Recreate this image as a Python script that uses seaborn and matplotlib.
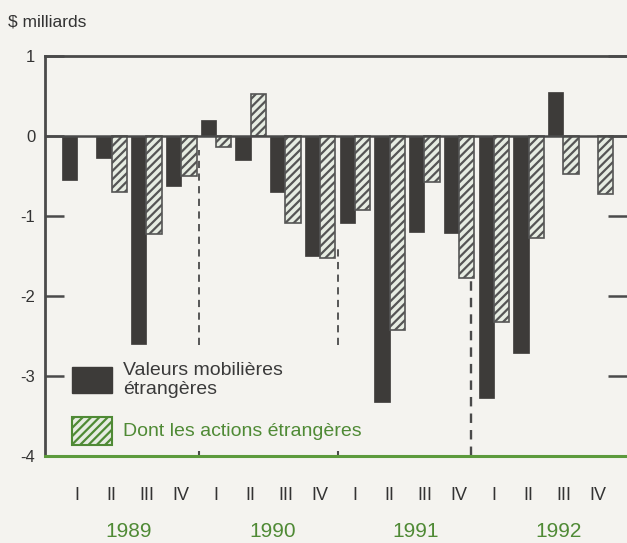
import numpy as np
import pandas as pd
import matplotlib
matplotlib.use("Agg")
import matplotlib.pyplot as plt
from matplotlib.patches import Rectangle
import seaborn as sns

# data ($ milliards)
years = ["1989", "1990", "1991", "1992"]
quarters = ["I", "II", "III", "IV"]
valeurs = [-0.55, -0.27, -2.6, -0.63,
           0.2, -0.3, -0.7, -1.5,
           -1.09, -3.33, -1.2, -1.21,
           -3.28, -2.71, 0.55, np.nan]
actions = [np.nan, -0.7, -1.23, -0.5,
           -0.14, 0.53, -1.09, -1.53,
           -0.92, -2.42, -0.58, -1.78,
           -2.33, -1.28, -0.48, -0.72]
series = ["Valeurs mobilières\nétrangères", "Dont les actions étrangères"]

keys = [y + "-" + q for y in years for q in quarters]
df = pd.DataFrame({
    "periode": keys * 2,
    "valeur": valeurs + actions,
    "serie": [series[0]] * len(keys) + [series[1]] * len(keys),
})

bg = "#f4f3ef"
dark = "#3d3b39"
light = "#e6ece2"
green = "#4f8a35"
grey = "#4a4a4a"

plt.rcParams["font.family"] = ["Liberation Sans", "DejaVu Sans"]
plt.rcParams["hatch.linewidth"] = 1.6
plt.rcParams["hatch.color"] = "#505050"

fig = plt.figure(figsize=(6.27, 5.43), dpi=100, facecolor=bg)
ax = fig.add_axes([0.0718, 0.160, 0.9282, 0.737], facecolor=bg)

sns.barplot(data=df, x="periode", y="valeur", hue="serie", order=keys,
            hue_order=series, palette=[dark, light], width=0.88,
            saturation=1, errorbar=None, legend=False, ax=ax)

for p in ax.containers[0]:
    p.set_edgecolor(dark)
    p.set_linewidth(0.5)
for p in ax.containers[1]:
    p.set_hatch("////")
    p.set_edgecolor("#555555")
    p.set_linewidth(1.2)

ax.set_xlim(-0.92, 15.83)
ax.set_ylim(-4, 1)
ax.axhline(0, color=grey, lw=1.8, zorder=3)

# year separators
ax.vlines(3.5, -2.61, -0.18, colors=grey, linestyles=(0, (4, 3)), lw=1.3)
ax.vlines(7.5, -2.61, -1.36, colors=grey, linestyles=(0, (4, 3)), lw=1.3)
ax.vlines(11.35, -4, -1.8, colors=grey, linestyles=(0, (4, 3)), lw=1.7)
ax.vlines([3.5, 7.5], -4, -3.93, colors=grey, lw=1.5)

ax.spines["right"].set_visible(False)
ax.spines["top"].set_color(grey)
ax.spines["top"].set_linewidth(2)
ax.spines["left"].set_color(grey)
ax.spines["left"].set_linewidth(2)
ax.spines["bottom"].set_color("#5c9a3c")
ax.spines["bottom"].set_linewidth(2.2)

ax.set_yticks([1, 0, -1, -2, -3, -4])
ax.set_yticklabels(["1", "0", "-1", "-2", "-3", "-4"], fontsize=12, color="#333333")
ax.tick_params(axis="y", direction="in", length=14, width=1.8, color=grey,
               pad=7, right=True)
ax.set_xticks(range(len(keys)))
ax.set_xticklabels(quarters * len(years), fontsize=13, color="#333333")
ax.tick_params(axis="x", length=0, pad=22)
ax.set_xlabel("")
ax.set_ylabel("")

for i, y in enumerate(years):
    ax.text(4 * i + 1.5 + 0.12 * i, -4.94, y, ha="center", va="center",
            fontsize=15, color=green)

fig.text(0.013, 0.959, "$ milliards", fontsize=12.5, color="#333333",
         va="center", ha="left")

# legend drawn by hand
ax.add_patch(Rectangle((0.046, 0.1575), 0.069, 0.065, transform=ax.transAxes,
                       facecolor=dark, edgecolor=dark, zorder=5))
ax.text(0.134, 0.19, series[0], transform=ax.transAxes, fontsize=14,
        color="#3a3a3a", va="center", ha="left", linespacing=1.15)
ax.add_patch(Rectangle((0.046, 0.0275), 0.069, 0.07, transform=ax.transAxes,
                       facecolor=light, edgecolor=green, hatch="////",
                       lw=1.5, zorder=5))
ax.text(0.134, 0.0625, series[1], transform=ax.transAxes, fontsize=14,
        color=green, va="center", ha="left")

fig.savefig("out.png", dpi=100, facecolor=bg)
